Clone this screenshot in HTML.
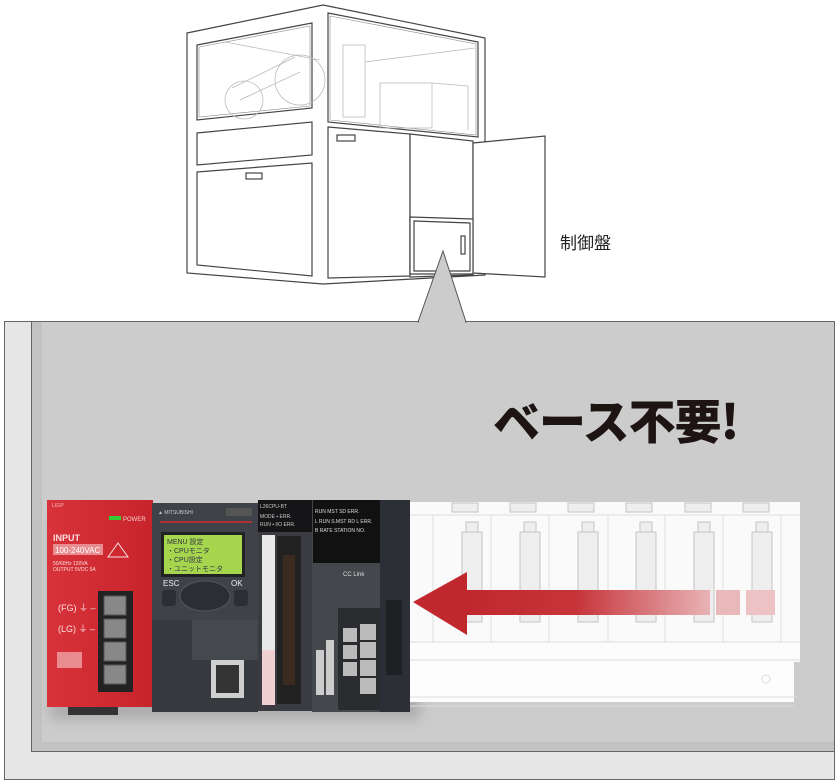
<!DOCTYPE html>
<html><head><meta charset="utf-8"><style>
html,body{margin:0;padding:0;background:#fff;width:840px;height:784px;overflow:hidden}
svg{display:block}
text{font-family:"Liberation Sans","Noto Sans CJK JP",sans-serif}
</style></head><body>
<svg width="840" height="784" viewBox="0 0 840 784" xmlns="http://www.w3.org/2000/svg">
<defs>
<linearGradient id="red" x1="0" y1="0" x2="1" y2="0"><stop offset="0" stop-color="#d8323a"/><stop offset="1" stop-color="#c8242c"/></linearGradient>
<linearGradient id="arr" x1="0" y1="0" x2="1" y2="0"><stop offset="0" stop-color="#c0282e"/><stop offset="0.45" stop-color="#c6343a"/><stop offset="1" stop-color="#e8b3b5"/></linearGradient>
<filter id="sh" x="-10%" y="-10%" width="130%" height="130%"><feGaussianBlur stdDeviation="6"/></filter>
</defs>

<!-- machine drawing -->
<g fill="#fff" stroke="#444" stroke-width="1.2">
<polygon points="187,33 323,5 485,38 485,275 323,284 187,273"/>
<polygon points="197,45 312,23 312,108 197,120"/>
<polygon points="199,47 310,26 310,106 199,117" fill="none" stroke="#888" stroke-width="0.6"/>
<polygon points="197,133 312,122 312,155 197,165"/>
<polygon points="197,172 312,163 312,276 197,265"/>
<polygon points="328,13 478,42 478,137 328,122"/>
<polygon points="330,16 476,44 476,135 330,120" fill="none" stroke="#888" stroke-width="0.6"/>
<polygon points="328,127 410,134 410,276 328,278"/>
<polygon points="410,134 473,141 473,275 410,277"/>
<polygon points="473,143 545,136 545,277 473,273"/>
<polygon points="410,217 473,219 473,274 410,274"/>
<polygon points="414,221 470,223 470,271 414,271"/>
<rect x="461" y="236" width="4" height="18"/>
<rect x="246" y="173" width="16" height="6"/>
<rect x="337" y="135" width="18" height="6"/>
</g>
<g fill="none" stroke="#bbb" stroke-width="0.8">
<line x1="225" y1="42" x2="320" y2="60"/>
<circle cx="244" cy="100" r="19"/>
<circle cx="300" cy="80" r="25"/>
<line x1="232" y1="88" x2="295" y2="57"/>
<line x1="240" y1="100" x2="300" y2="72"/>
<rect x="343" y="45" width="22" height="72"/>
<line x1="365" y1="62" x2="475" y2="48"/>
<rect x="380" y="83" width="52" height="45"/>
<line x1="432" y1="83" x2="468" y2="86"/>
<line x1="468" y1="86" x2="468" y2="130"/>
</g>
<text x="560" y="249" font-size="17" fill="#222">制御盤</text>

<!-- panel -->
<rect x="4.5" y="321.5" width="830" height="458" fill="#e6e6e6" stroke="#666" stroke-width="1"/>
<rect x="31.5" y="321.5" width="803" height="430" fill="#cccccc" stroke="#666" stroke-width="1"/>
<rect x="32" y="322" width="10" height="429" fill="#c2c2c2"/>
<rect x="32" y="742" width="802" height="9" fill="#c2c2c2"/>
<!-- callout triangle -->
<polygon points="418,322 443,251 466,322" fill="#cccccc" stroke="#555" stroke-width="1"/>
<line x1="419" y1="322" x2="465" y2="322" stroke="#ccc" stroke-width="2"/>

<text x="493" y="439" font-size="47" font-weight="900" fill="#1e1414" style="font-family:'Noto Sans CJK JP',sans-serif" letter-spacing="-1">ベース不要!</text>

<!-- shadow -->
<rect x="50" y="520" width="370" height="200" fill="#999" filter="url(#sh)" opacity="0.6"/>

<!-- base unit -->
<rect x="410" y="502" width="390" height="140" fill="#fafafa"/>
<rect x="410" y="642" width="390" height="20" fill="#fcfcfc"/>
<rect x="410" y="662" width="384" height="40" fill="#fdfdfd"/>
<g stroke="#ddd" stroke-width="1" fill="none">
<line x1="410" y1="515" x2="800" y2="515"/>
<line x1="410" y1="642" x2="800" y2="642"/>
<line x1="410" y1="660" x2="800" y2="660"/>
<line x1="410" y1="697" x2="798" y2="697"/>
<line x1="410" y1="706" x2="794" y2="706"/>
<line x1="433" y1="515" x2="433" y2="642"/><line x1="491" y1="515" x2="491" y2="642"/><line x1="549" y1="515" x2="549" y2="642"/><line x1="608" y1="515" x2="608" y2="642"/><line x1="665" y1="515" x2="665" y2="642"/><line x1="723" y1="515" x2="723" y2="642"/><line x1="781" y1="515" x2="781" y2="642"/>
<circle cx="766" cy="679" r="4"/>
</g>
<g stroke="#c4c4c4" fill="#eeeeee" stroke-width="1">
<rect x="452" y="503" width="26" height="9"/><rect x="510" y="503" width="26" height="9"/><rect x="568" y="503" width="26" height="9"/><rect x="626" y="503" width="26" height="9"/><rect x="685" y="503" width="26" height="9"/><rect x="743" y="503" width="26" height="9"/>
<rect x="462" y="532" width="20" height="90"/><rect x="520" y="532" width="20" height="90"/><rect x="578" y="532" width="20" height="90"/><rect x="636" y="532" width="20" height="90"/><rect x="694" y="532" width="20" height="90"/><rect x="752" y="532" width="20" height="90"/>
<rect x="466" y="522" width="12" height="10"/><rect x="524" y="522" width="12" height="10"/><rect x="582" y="522" width="12" height="10"/><rect x="640" y="522" width="12" height="10"/><rect x="698" y="522" width="12" height="10"/><rect x="756" y="522" width="12" height="10"/>
</g>

<!-- power supply -->
<rect x="68" y="705" width="50" height="10" fill="#333"/>
<rect x="47" y="500" width="106" height="207" fill="url(#red)"/>
<text x="52" y="507" font-size="5" fill="#f4c0c0">L61P</text>
<rect x="109" y="516" width="12" height="4" fill="#3c3"/>
<text x="123" y="521" font-size="6" fill="#f5d0d0">POWER</text>
<text x="53" y="541" font-size="9" fill="#fbe0e0" font-weight="bold">INPUT</text>
<rect x="53" y="544" width="50" height="11" fill="#e98c90"/>
<text x="55" y="553" font-size="8" fill="#fff">100-240VAC</text>
<polygon points="118,543 108,557 128,557" fill="none" stroke="#fbe0e0"/>
<text x="53" y="565" font-size="5" fill="#fbe0e0">50/60Hz 130VA</text>
<text x="53" y="571" font-size="5" fill="#fbe0e0">OUTPUT 5VDC 5A</text>
<text x="58" y="611" font-size="9" fill="#fbe0e0">(FG) ⏚ –</text>
<text x="58" y="632" font-size="9" fill="#fbe0e0">(LG) ⏚ –</text>
<rect x="57" y="652" width="25" height="16" fill="#e98c90"/>
<rect x="98" y="591" width="35" height="101" fill="#222"/>
<g fill="#888" stroke="#555"><rect x="104" y="596" width="22" height="19"/><rect x="104" y="619" width="22" height="19"/><rect x="104" y="642" width="22" height="19"/><rect x="104" y="665" width="22" height="19"/></g>

<!-- CPU module -->
<rect x="152" y="503" width="106" height="209" fill="#3f4248"/>
<rect x="152" y="620" width="106" height="92" fill="#36393e"/>
<text x="158" y="514" font-size="5" fill="#ccc">▲ MITSUBISHI</text>
<rect x="226" y="508" width="26" height="8" fill="#555"/>
<rect x="160" y="521" width="92" height="2" fill="#a33"/>
<rect x="161" y="532" width="84" height="45" fill="#222"/>
<rect x="164" y="535" width="78" height="39" fill="#a5d64e"/>
<g font-size="7" fill="#334">
<text x="167" y="544">MENU 設定</text><text x="167" y="553">・CPUモニタ</text><text x="167" y="562">・CPU設定</text><text x="167" y="571">・ユニットモニタ</text>
</g>
<text x="163" y="586" font-size="8" fill="#eee">ESC</text><text x="231" y="586" font-size="8" fill="#eee">OK</text>
<ellipse cx="205" cy="596" rx="25" ry="15" fill="#2c2e33" stroke="#555"/>
<rect x="162" y="590" width="14" height="16" rx="3" fill="#2c2e33"/>
<rect x="234" y="590" width="14" height="16" rx="3" fill="#2c2e33"/>
<rect x="192" y="620" width="66" height="40" fill="#45484d"/>
<rect x="211" y="660" width="33" height="38" fill="#cfcfcf"/>
<rect x="216" y="665" width="23" height="28" fill="#333"/>

<!-- I/O module -->
<rect x="258" y="500" width="54" height="211" fill="#3a3c41"/>
<rect x="258" y="500" width="54" height="32" fill="#151517"/>
<text x="260" y="508" font-size="5" fill="#ccc">L26CPU-BT</text>
<text x="260" y="518" font-size="5" fill="#ccc">MODE ▪ ERR.</text>
<text x="260" y="526" font-size="5" fill="#ccc">RUN ▪ I/O ERR.</text>
<rect x="262" y="535" width="13" height="170" fill="#e8e8e8"/>
<rect x="262" y="650" width="13" height="55" fill="#f0d0d0"/>
<rect x="277" y="536" width="24" height="168" fill="#222"/>
<rect x="283" y="555" width="12" height="130" fill="#3a2a20"/>

<!-- CC-Link module -->
<rect x="312" y="500" width="70" height="212" fill="#44474c"/>
<rect x="313" y="500" width="67" height="63" fill="#111"/>
<g font-size="5" fill="#ddd"><text x="315" y="513">RUN  MST  SD  ERR.</text><text x="315" y="523">L RUN S.MST RD L ERR.</text><text x="315" y="532">B RATE  STATION NO.</text></g>
<text x="343" y="576" font-size="6" fill="#ddd">CC Link</text>
<rect x="338" y="608" width="42" height="102" fill="#2a2c30"/>
<g fill="#bbb"><rect x="343" y="628" width="14" height="14"/><rect x="343" y="645" width="14" height="14"/><rect x="343" y="662" width="14" height="14"/><rect x="360" y="624" width="16" height="16"/><rect x="360" y="642" width="16" height="16"/><rect x="360" y="660" width="16" height="16"/><rect x="360" y="678" width="16" height="16"/></g>
<rect x="316" y="650" width="8" height="45" fill="#ccc"/><rect x="326" y="640" width="8" height="55" fill="#ccc"/>
<rect x="380" y="500" width="30" height="212" fill="#2c2f35"/>
<rect x="386" y="600" width="16" height="75" fill="#1e2024"/>

<!-- arrow -->
<polygon points="413,602 467,572 467,635" fill="#c0282e"/>
<rect x="466" y="590" width="244" height="25" fill="url(#arr)"/>
<rect x="716" y="590" width="24" height="25" fill="#e8b8ba"/>
<rect x="746" y="590" width="29" height="25" fill="#ecc2c4"/>
</svg>
</body></html>
